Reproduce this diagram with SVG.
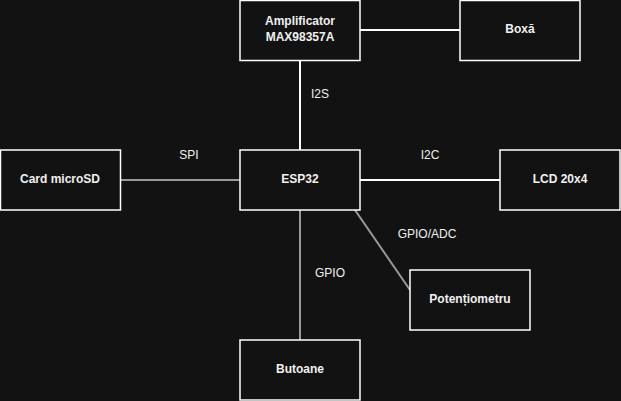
<svg xmlns="http://www.w3.org/2000/svg" width="621" height="401" viewBox="0 0 621 401">
<style>
.n rect{fill:#121212;stroke:#fff;stroke-width:1.5}
text{font-family:"Liberation Sans",Arial,sans-serif;font-size:12px;fill:#f0f0f0;text-anchor:middle;dominant-baseline:middle}
.n text{font-weight:bold}
.c line{stroke-width:2}
</style>
<rect width="621" height="401" fill="#121212"/>
<g class="c">
<line x1="360" y1="30" x2="460" y2="30" stroke="#fff"/>
<line x1="300" y1="60" x2="300" y2="150" stroke="#fff"/>
<line x1="120" y1="180" x2="240" y2="180" stroke="#999"/>
<line x1="360" y1="180" x2="500" y2="180" stroke="#fff"/>
<line x1="355" y1="210" x2="410" y2="290" stroke="#999"/>
<line x1="300" y1="210" x2="300" y2="340" stroke="#999"/>
<text x="320" y="95">I2S</text>
<text x="189" y="156">SPI</text>
<text x="430" y="156">I2C</text>
<text x="427" y="235">GPIO/ADC</text>
<text x="330" y="274">GPIO</text>
</g>
<g class="n" id="amp"><rect x="240" y="0.5" width="120" height="60"/><text x="300" y="22">Amplificator</text><text x="300" y="38">MAX98357A</text></g>
<g class="n" id="boxa"><rect x="460" y="0.5" width="120" height="60"/><text x="520" y="30">Boxă</text></g>
<g class="n" id="esp"><rect x="240" y="150" width="120" height="60"/><text x="300" y="180">ESP32</text></g>
<g class="n" id="sd"><rect x="0.5" y="150" width="120" height="60"/><text x="60" y="180">Card microSD</text></g>
<g class="n" id="lcd"><rect x="500" y="150" width="120" height="60"/><text x="560" y="180">LCD 20x4</text></g>
<g class="n" id="pot"><rect x="410" y="270" width="120" height="60"/><text x="470" y="300">Potențiometru</text></g>
<g class="n" id="but"><rect x="240" y="340" width="120" height="60"/><text x="300" y="370">Butoane</text></g>
</svg>
